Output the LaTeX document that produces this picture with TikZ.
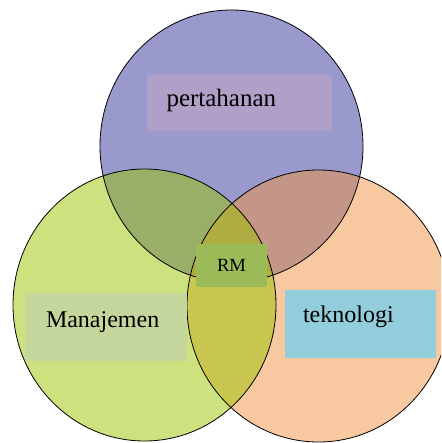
\documentclass[tikz,border=0pt]{standalone}
\usepackage{fontspec}
\setmainfont{Liberation Serif}
\definecolor{topblue}{RGB}{51,51,157}
\definecolor{leftgreen}{RGB}{155,195,0}
\definecolor{rightpeach}{RGB}{241,147,65}
\definecolor{boxlilac}{RGB}{176,160,200}
\definecolor{boxgreen}{RGB}{196,214,155}
\definecolor{boxblue}{RGB}{146,205,220}
\definecolor{boxrm}{RGB}{155,187,89}

\begin{document}
\begin{tikzpicture}[x=1pt,y=-1pt]
    \tikzset{SetStyle/.style = {%
        fill opacity=0.5,
        fill=#1},
      SetLine/.style = {draw=black, line width=0.8pt},
      LabelStyle/.style = {%
        shape=rectangle,
        inner ysep=0pt,
        align=left,
        font=\fontsize{24}{28}\selectfont}}
    \clip (0,0) rectangle (441,443);
    \coordinate (ctop)   at (231.5,146);
    \coordinate (cleft)  at (144.5,305);
    \coordinate (cright) at (318.5,306);
    % the three sets
    \fill[SetStyle=topblue]    (ctop)   ellipse [x radius=131.5, y radius=136];
    \fill[SetStyle=rightpeach] (cright) ellipse [x radius=131.5, y radius=136];
    \fill[SetStyle=leftgreen]  (cleft)  ellipse [x radius=131.5, y radius=136];
    \draw[SetLine] (ctop)   ellipse [x radius=131.5, y radius=136];
    \draw[SetLine] (cright) ellipse [x radius=131.5, y radius=136];
    \draw[SetLine] (cleft)  ellipse [x radius=131.5, y radius=136];
    % labels
    \node[LabelStyle, fill=boxlilac, inner xsep=19.5pt, text width=146pt,
          minimum height=56pt, text height=7.4pt, text depth=0pt,
          font=\fontsize{25}{29}\selectfont]
          (pertahanan) at (239.5,103) {pertahanan};
    \node[LabelStyle, fill=boxgreen, inner xsep=21pt, text width=120pt,
          minimum height=68pt, text height=0pt, text depth=0pt]
          (manajemen) at (106,327) {Manajemen};
    \node[LabelStyle, fill=boxblue, inner xsep=18pt, text width=115pt,
          minimum height=68pt, text height=0pt, text depth=4pt]
          (teknologi) at (360.5,324) {teknologi};
    \node[LabelStyle, fill=boxrm, align=center, minimum width=71pt,
          minimum height=43pt, font=\fontsize{18.6}{22}\selectfont]
          (rm) at (231.5,265.5) {RM};
\end{tikzpicture}
\end{document}
